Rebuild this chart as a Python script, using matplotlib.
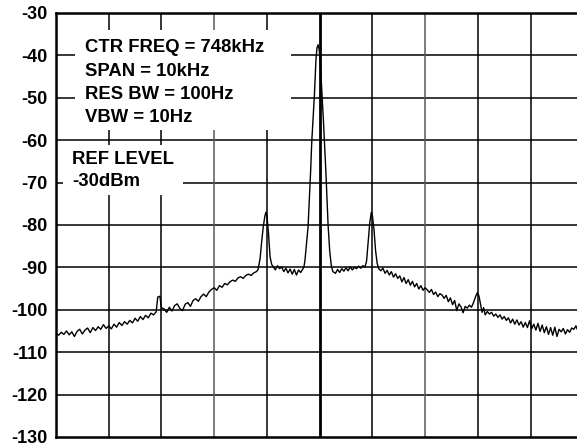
import matplotlib.pyplot as plt
from matplotlib.patches import Rectangle

# spectrum analyzer trace: frequency (kHz above 743kHz start of span) vs level (dBm)
freq_khz = [
    0.00, 0.05, 0.10, 0.15, 0.20, 0.25, 0.30, 0.35, 0.40, 0.45,
    0.50, 0.55, 0.60, 0.65, 0.70, 0.75, 0.80, 0.85, 0.90, 0.95,
    1.00, 1.05, 1.10, 1.15, 1.20, 1.25, 1.30, 1.35, 1.40, 1.45,
    1.50, 1.55, 1.60, 1.65, 1.70, 1.75, 1.80, 1.85, 1.90, 1.93,
    1.97, 2.00, 2.05, 2.10, 2.15, 2.20, 2.25, 2.30, 2.35, 2.40,
    2.45, 2.50, 2.55, 2.60, 2.65, 2.70, 2.75, 2.80, 2.85, 2.90,
    2.95, 3.00, 3.05, 3.10, 3.15, 3.20, 3.25, 3.30, 3.35, 3.40,
    3.45, 3.50, 3.55, 3.60, 3.65, 3.70, 3.75, 3.80, 3.83, 3.87,
    3.90, 3.93, 3.96, 3.98, 4.00, 4.03, 4.06, 4.09, 4.12, 4.16,
    4.20, 4.24, 4.28, 4.32, 4.36, 4.40, 4.44, 4.48, 4.52, 4.56,
    4.60, 4.64, 4.68, 4.70, 4.72, 4.75, 4.78, 4.80, 4.83, 4.85,
    4.88, 4.90, 4.93, 4.95, 4.97, 4.99, 5.01, 5.03, 5.05, 5.07,
    5.09, 5.12, 5.14, 5.16, 5.19, 5.22, 5.25, 5.30, 5.34, 5.38,
    5.42, 5.46, 5.50, 5.54, 5.58, 5.62, 5.66, 5.70, 5.74, 5.78,
    5.82, 5.86, 5.89, 5.92, 5.95, 5.98, 6.00, 6.03, 6.06, 6.09,
    6.12, 6.16, 6.20, 6.24, 6.28, 6.32, 6.36, 6.40, 6.44, 6.48,
    6.52, 6.56, 6.60, 6.64, 6.68, 6.72, 6.76, 6.80, 6.84, 6.88,
    6.92, 6.96, 7.00, 7.04, 7.08, 7.12, 7.16, 7.20, 7.24, 7.28,
    7.32, 7.36, 7.40, 7.44, 7.48, 7.52, 7.56, 7.60, 7.64, 7.68,
    7.72, 7.76, 7.80, 7.84, 7.88, 7.92, 7.96, 7.99, 8.02, 8.05,
    8.08, 8.11, 8.14, 8.18, 8.22, 8.26, 8.30, 8.34, 8.38, 8.42,
    8.46, 8.50, 8.54, 8.58, 8.62, 8.66, 8.70, 8.74, 8.78, 8.82,
    8.86, 8.90, 8.94, 8.98, 9.02, 9.06, 9.10, 9.14, 9.18, 9.22,
    9.26, 9.30, 9.34, 9.38, 9.42, 9.46, 9.50, 9.54, 9.58, 9.62,
    9.66, 9.70, 9.74, 9.78, 9.82, 9.86, 9.88,
]
level_dbm = [
    -105.5, -106.0, -105.3, -105.8, -105.0, -105.9, -105.2, -106.3, -105.1, -104.6,
    -105.7, -104.8, -104.3, -105.4, -104.2, -104.9, -104.0, -104.6, -103.5, -104.4,
    -103.8, -104.5, -103.4, -104.1, -103.0, -103.7, -102.8, -103.4, -102.5, -103.1,
    -102.0, -102.7, -101.6, -102.3, -101.3, -101.9, -100.8, -101.2, -100.5, -97.0,
    -96.8, -99.5, -99.8, -100.6, -99.4, -100.3, -99.0, -98.6, -99.7, -100.2,
    -98.7, -98.3, -99.2, -97.8, -97.4, -98.0, -96.9, -96.3, -96.9, -95.8,
    -95.2, -94.8, -95.4, -94.3, -94.7, -93.8, -94.1, -93.4, -93.0, -93.3,
    -92.5, -92.2, -92.6, -91.9, -91.6, -91.9, -91.3, -91.0, -90.6, -88.0,
    -84.0, -80.5, -78.0, -77.0, -77.8, -82.0, -87.5, -89.3, -89.8, -90.6,
    -89.6, -90.3, -89.9, -91.0, -90.2, -91.3, -90.4, -91.6, -90.5, -91.8,
    -90.6, -91.2, -90.4, -90.0, -88.5, -84.5, -80.5, -75.0, -67.0, -60.5,
    -54.0, -49.5, -41.0, -38.2, -37.5, -38.5, -41.0, -46.0, -50.5, -55.0,
    -60.0, -68.0, -74.0, -80.0, -86.0, -89.5, -91.0, -91.4, -90.5, -91.2,
    -90.3, -90.9, -90.1, -90.8, -89.9, -90.6, -90.0, -90.3, -89.7, -90.2,
    -89.6, -89.9, -88.5, -84.0, -79.5, -77.0, -77.8, -81.0, -86.0, -89.0,
    -90.3, -90.8, -90.2, -91.4, -90.7, -91.8, -91.0, -92.3, -91.5, -92.6,
    -92.0, -93.4, -92.4, -93.8, -92.9, -94.2, -93.3, -94.6, -93.8, -95.1,
    -94.3, -95.4, -94.8, -95.3, -95.9, -95.2, -96.4, -95.8, -96.9, -96.2,
    -96.5, -97.3, -96.6, -98.1, -97.2, -98.8, -97.8, -100.2, -98.6, -99.3,
    -100.7, -99.2, -99.6, -98.9, -99.4, -98.2, -96.8, -96.0, -96.7, -98.6,
    -100.6, -99.5, -101.2, -100.4, -101.0, -100.6, -101.5, -101.0, -101.8, -101.2,
    -102.2, -101.6, -102.5, -101.9, -103.1, -102.2, -103.4, -102.4, -103.6, -102.8,
    -104.1, -103.0, -104.2, -102.6, -104.5, -103.4, -104.8, -103.2, -105.1, -103.6,
    -105.4, -104.0, -105.8, -104.2, -106.0, -104.1, -106.3, -104.6, -105.2, -104.4,
    -105.7, -104.7, -105.3, -104.3, -104.6, -103.8, -104.5,
]

y_ticks = [-30, -40, -50, -60, -70, -80, -90, -100, -110, -120, -130]
x_divs = [1, 2, 3, 4, 5, 6, 7, 8, 9]
setup_lines = ["CTR FREQ = 748kHz", "SPAN = 10kHz", "RES BW = 100Hz", "VBW = 10Hz"]
ref_lines = ["REF LEVEL", "-30dBm"]

plt.rcParams["font.family"] = ["Liberation Sans", "DejaVu Sans"]

fig = plt.figure(figsize=(5.77, 4.48), dpi=100)
ax = fig.add_axes([0.097, 0.0246, 0.903, 0.9464])

ax.set_xlim(0, 9.88)
ax.set_ylim(-130, -30)

# graticule
for yv in y_ticks[1:-1]:
    ax.axhline(yv, color="black", lw=1.1, zorder=1)
for xv in x_divs:
    if xv == 5:
        ax.axvline(xv, color="black", lw=2.0, zorder=1)
    elif xv in (3, 7):
        ax.axvline(xv, color="0.35", lw=1.1, zorder=1)
    else:
        ax.axvline(xv, color="black", lw=1.1, zorder=1)

ax.plot(freq_khz, level_dbm, color="black", lw=1.0, zorder=3)

# white label boxes over the graticule
ax.add_patch(Rectangle((0.36, -57.6), 4.1, 23.6, facecolor="white",
                       edgecolor="none", zorder=2))
ax.add_patch(Rectangle((0.13, -72.9), 2.28, 11.8, facecolor="white",
                       edgecolor="none", zorder=2))

ax.text(0.55, -36.2, "\n".join(setup_lines), fontsize=13.3, fontweight="bold",
        va="top", ha="left", linespacing=1.48, zorder=4)
ax.text(0.31, -62.5, "\n".join(ref_lines), fontsize=13.3, fontweight="bold",
        va="top", ha="left", linespacing=1.42, zorder=4)

ax.set_yticks(y_ticks)
ax.set_yticklabels([str(v) for v in y_ticks], fontsize=13, fontweight="bold")
ax.tick_params(axis="y", length=0, pad=6)
ax.set_xticks([])

for side in ("left", "top", "bottom"):
    ax.spines[side].set_linewidth(1.8)
ax.spines["right"].set_visible(False)

plt.savefig("out.png", dpi=100, facecolor="white")
plt.close()
